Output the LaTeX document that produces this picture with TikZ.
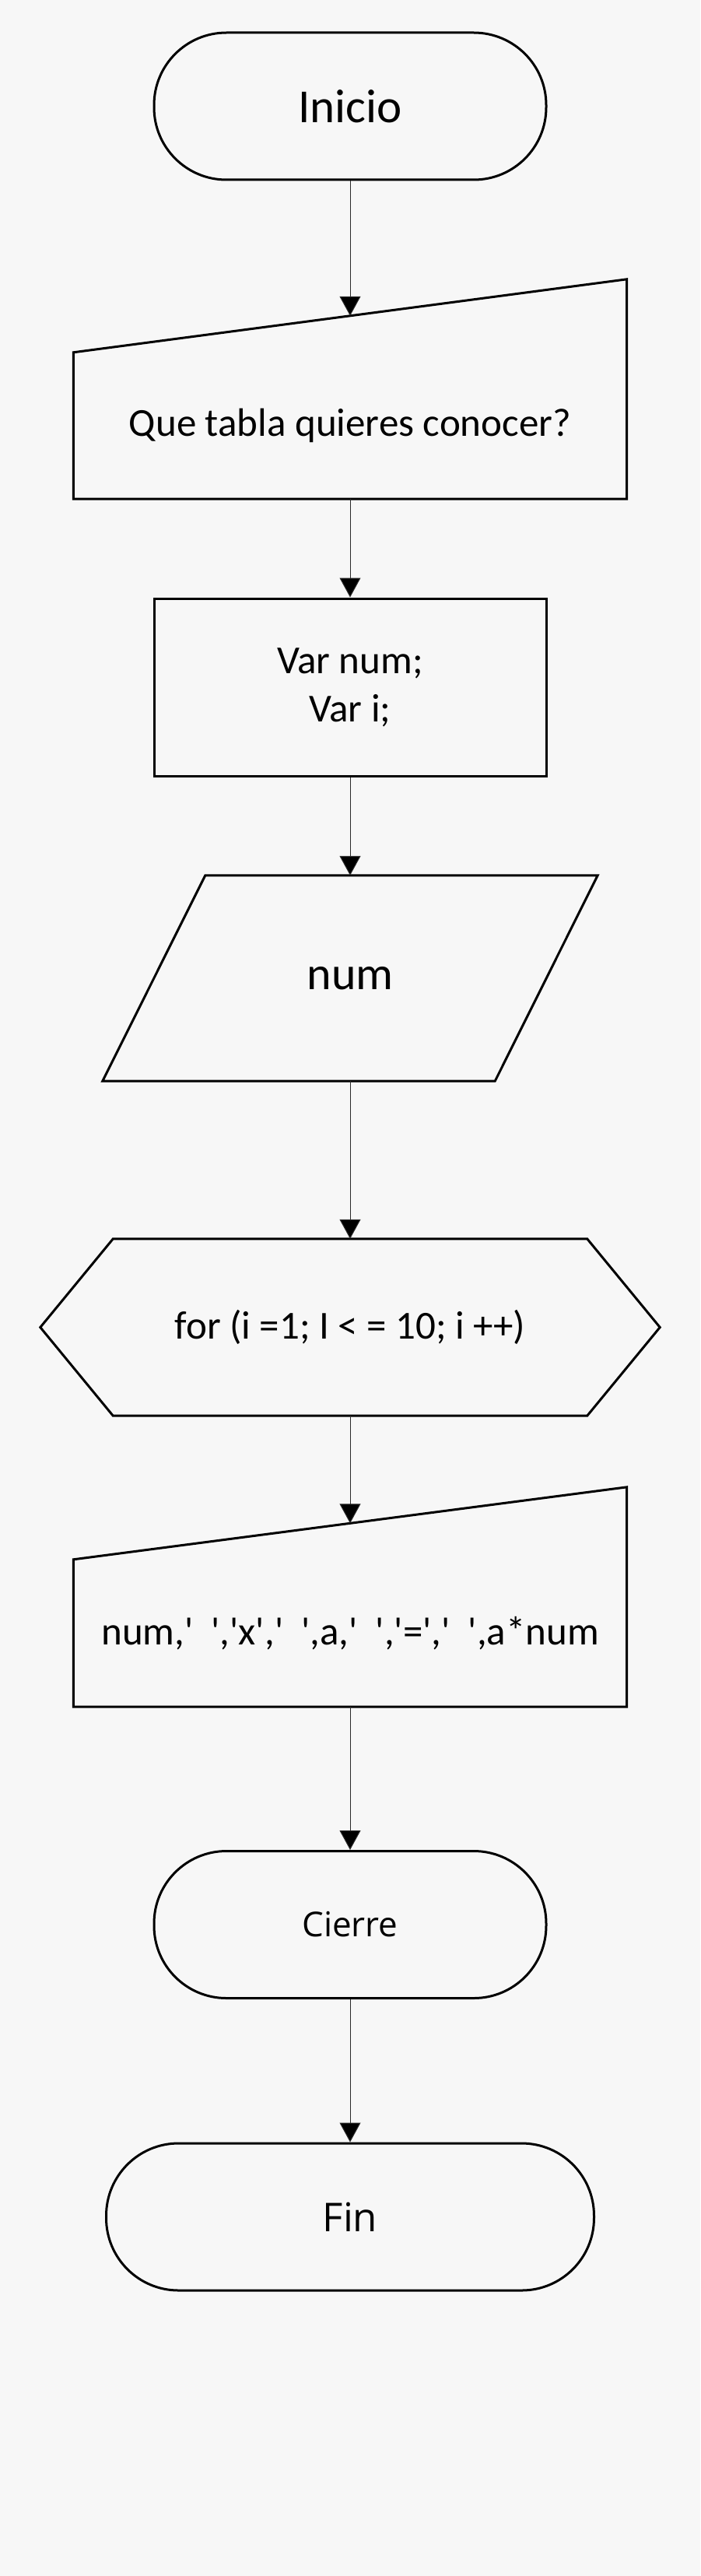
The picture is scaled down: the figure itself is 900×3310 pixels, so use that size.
\documentclass[tikz,border=0pt]{standalone}
\usepackage{fontspec}
\newfontfamily\calibri{Carlito}
\newfontfamily\opensans{Open Sans}
\usepackage{tikz}
\usetikzlibrary{arrows.meta, calc}
\definecolor{fondo}{HTML}{F7F7F7}
\definecolor{linea}{HTML}{2A2A2A}

\begin{document}
\begin{tikzpicture}[x=1pt, y=1pt,
  terminal/.style={draw, line width=3pt, rounded corners=93pt, minimum height=189pt, inner sep=0pt},
  caja/.style={draw=none, inner sep=0pt},
  borde/.style={draw, line width=3pt, line join=miter},
  texto/.style={font=\calibri\fontsize{51}{62}\selectfont, align=center},
  flecha/.style={linea, line width=1pt, -{Triangle[width=27pt, length=25pt, fill=black]}}]

  % fondo y margenes
  \fill[fondo] (0,0) rectangle (900,-3310);

  % Inicio
  \node[terminal, minimum width=504pt, font=\calibri\fontsize{61}{62}\selectfont] (inicio) at (450,-136.5) {Inicio};

  % entrada manual: pregunta
  \node[caja, texto, minimum width=711pt, minimum height=188pt] (pide) at (450,-547) {Que tabla quieres conocer?};
  \draw[borde] (pide.north west) -- (pide.south west) -- (pide.south east)
    -- ($(pide.north east)+(0,94)$) -- cycle;
  \coordinate (pidetop) at ($(pide.north)+(0,47)$);

  % variables
  \node[draw, line width=3pt, texto, minimum width=504pt, minimum height=228pt] (vars) at (450,-883) {Var num;\\Var i;};

  % lectura de num
  \node[caja, minimum width=504pt, minimum height=264pt, font=\calibri\fontsize{60}{62}\selectfont] (leer) at (450,-1257) {num};
  \draw[borde] ($(leer.south west)+(-66,0)$) -- ($(leer.south east)+(-66,0)$)
    -- ($(leer.north east)+(66,0)$) -- ($(leer.north west)+(66,0)$) -- cycle;

  % ciclo for
  \node[caja, texto, minimum width=609pt, minimum height=227pt] (ciclo) at (450,-1705.5) {for (i =1; I < = 10; i ++)};
  \draw[borde] (ciclo.north west) -- (ciclo.north east) -- ($(ciclo.east)+(93.5,0)$)
    -- (ciclo.south east) -- (ciclo.south west) -- ($(ciclo.west)+(-93.5,0)$) -- cycle;

  % entrada manual: tabla
  \node[caja, texto, minimum width=711pt, minimum height=189pt] (salida) at (450,-2098.5) {num,'\ \ ','x','\ \ ',a,'\ \ ','=','\ \ ',a*num};
  \draw[borde] (salida.north west) -- (salida.south west) -- (salida.south east)
    -- ($(salida.north east)+(0,93)$) -- cycle;
  \coordinate (salidatop) at ($(salida.north)+(0,46.5)$);

  % Cierre
  \node[terminal, minimum width=504pt, font=\opensans\fontsize{44}{50}\selectfont] (cierre) at (450,-2473) {Cierre};

  % Fin
  \node[terminal, minimum width=627pt, font=\opensans\fontsize{51}{55}\selectfont] (fin) at (450,-2848.5) {Fin};

  % conectores
  \foreach \a/\b in {inicio.south/pidetop, pide.south/vars.north, vars.south/leer.north,
      leer.south/ciclo.north, ciclo.south/salidatop, salida.south/cierre.north, cierre.south/fin.north}{
    \draw[flecha] (\a) -- (\b);
  }

\end{tikzpicture}
\end{document}
